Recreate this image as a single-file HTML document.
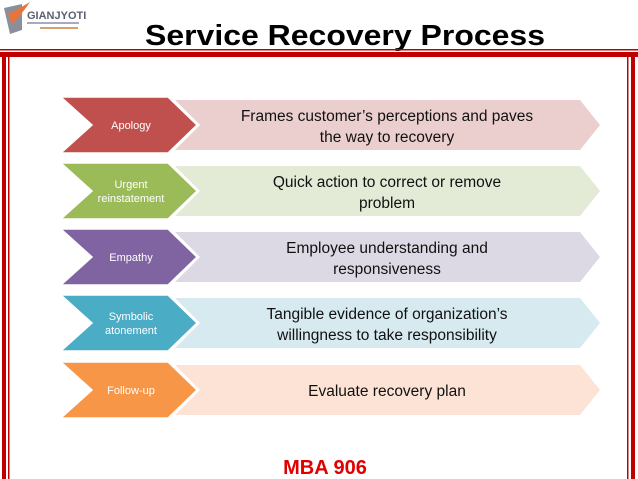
<!DOCTYPE html>
<html><head><style>body{margin:0;background:#fff}svg{display:block}</style></head>
<body>
<svg width="638" height="479" viewBox="0 0 638 479" xmlns="http://www.w3.org/2000/svg" font-family="Liberation Sans, sans-serif">
<rect width="638" height="479" fill="#fff"/>
<path d="M4 8 L22 4 L22 30 L10 34 Z" fill="#8a8f99"/>
<path d="M8 14 Q20 8 30 2 Q22 14 12 24 Z" fill="#e8743b"/>
<text x="27" y="19" font-size="11" font-weight="bold" fill="#5a6070">GIANJYOTI</text>
<rect x="27" y="22" width="52" height="2" fill="#aab"/>
<rect x="40" y="27" width="38" height="2" fill="#d9a070"/>
<text x="345" y="45" font-size="29" font-weight="bold" text-anchor="middle" textLength="400" lengthAdjust="spacingAndGlyphs">Service Recovery Process</text>
<rect x="0" y="49" width="638" height="1.5" fill="#c00000"/>
<rect x="0" y="52" width="638" height="5" fill="#c00000"/>
<rect x="2" y="52" width="4" height="427" fill="#c00000"/>
<rect x="8" y="52" width="1.5" height="427" fill="#c00000"/>
<rect x="631" y="52" width="4" height="427" fill="#c00000"/>
<rect x="627" y="52" width="1.5" height="427" fill="#c00000"/>
<g font-size="15.5" text-anchor="middle" fill="#111">
<g>
<path d="M175 100 H580 L600 125 L580 150 H175 L200 125 Z" fill="#eacfce"/>
<path d="M61 97 H168 L197 125 L168 153 H61 L92 125 Z" fill="#c0504d" stroke="#fff" stroke-width="1.5"/>
<text x="131" y="129" font-size="11" fill="#fff">Apology</text>
<text x="387" y="121">Frames customer’s perceptions and paves</text>
<text x="387" y="142">the way to recovery</text>
</g>
<g transform="translate(0,66)">
<path d="M175 100 H580 L600 125 L580 150 H175 L200 125 Z" fill="#e3ead6"/>
<path d="M61 97 H168 L197 125 L168 153 H61 L92 125 Z" fill="#9bbb59" stroke="#fff" stroke-width="1.5"/>
<text x="131" y="122" font-size="11" fill="#fff">Urgent</text>
<text x="131" y="136" font-size="11" fill="#fff">reinstatement</text>
<text x="387" y="121">Quick action to correct or remove</text>
<text x="387" y="142">problem</text>
</g>
<g transform="translate(0,132)">
<path d="M175 100 H580 L600 125 L580 150 H175 L200 125 Z" fill="#ddd9e4"/>
<path d="M61 97 H168 L197 125 L168 153 H61 L92 125 Z" fill="#8064a2" stroke="#fff" stroke-width="1.5"/>
<text x="131" y="129" font-size="11" fill="#fff">Empathy</text>
<text x="387" y="121">Employee understanding and</text>
<text x="387" y="142">responsiveness</text>
</g>
<g transform="translate(0,198)">
<path d="M175 100 H580 L600 125 L580 150 H175 L200 125 Z" fill="#d6eaf0"/>
<path d="M61 97 H168 L197 125 L168 153 H61 L92 125 Z" fill="#4bacc6" stroke="#fff" stroke-width="1.5"/>
<text x="131" y="122" font-size="11" fill="#fff">Symbolic</text>
<text x="131" y="136" font-size="11" fill="#fff">atonement</text>
<text x="387" y="121">Tangible evidence of organization’s</text>
<text x="387" y="142">willingness to take responsibility</text>
</g>
<g transform="translate(0,265)">
<path d="M175 100 H580 L600 125 L580 150 H175 L200 125 Z" fill="#fce3d5"/>
<path d="M61 97 H168 L197 125 L168 153 H61 L92 125 Z" fill="#f79646" stroke="#fff" stroke-width="1.5"/>
<text x="131" y="129" font-size="11" fill="#fff">Follow-up</text>
<text x="387" y="131">Evaluate recovery plan</text>
</g>
</g>
<text x="325" y="474" font-size="20" font-weight="bold" fill="#e00000" text-anchor="middle">MBA 906</text>
</svg>
</body></html>
